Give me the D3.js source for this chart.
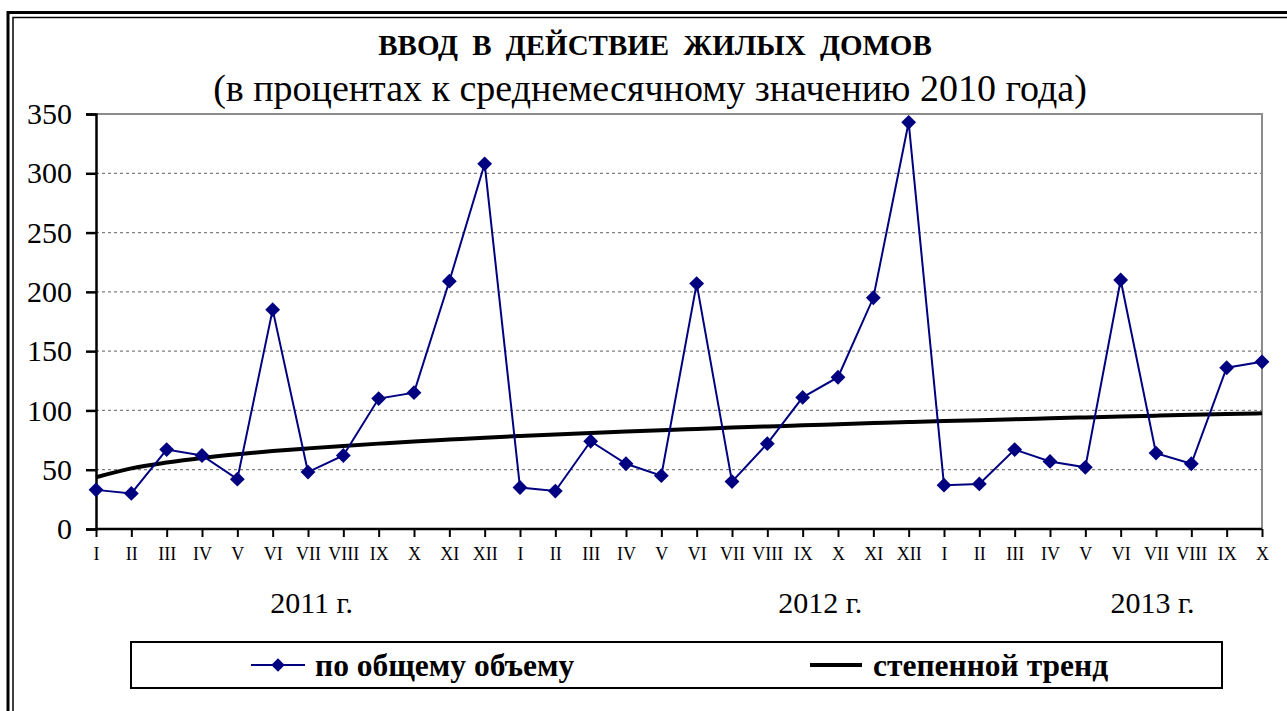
<!DOCTYPE html>
<html>
<head>
<meta charset="utf-8">
<script src="https://cdn.jsdelivr.net/npm/d3@7"></script>
<style>
  body { margin: 0; background: #fff; }
</style>
</head>
<body>
<div id="chart"></div>
<script>
// data
var months = ["I","II","III","IV","V","VI","VII","VIII","IX","X","XI","XII",
              "I","II","III","IV","V","VI","VII","VIII","IX","X","XI","XII",
              "I","II","III","IV","V","VI","VII","VIII","IX","X"];
var totalVolume = [33, 30, 67, 62, 42, 185, 48, 62, 110, 115, 209, 308,
                   35, 32, 74, 55, 45, 207, 40, 72, 111, 128, 195, 343,
                   37, 38, 67, 57, 52, 210, 64, 55, 136, 141];
var powerTrend = [43.6, 51.1, 56.0, 59.9, 63.0, 65.7, 68.0, 70.1, 72.0, 73.8, 75.4, 77.0,
                  78.4, 79.7, 81.0, 82.2, 83.3, 84.4, 85.5, 86.5, 87.4, 88.4, 89.3, 90.2,
                  91.0, 91.8, 92.6, 93.4, 94.1, 94.9, 95.6, 96.3, 97.0, 97.6];
var yTicks = [0, 50, 100, 150, 200, 250, 300, 350];
var yearLabels = ["2011 г.", "2012 г.", "2013 г."];
var seriesNames = ["по общему объему", "степенной тренд"];

var W = 1287, H = 711;
var margin = {top: 114, right: 25, bottom: 182, left: 96},
    width = W - margin.left - margin.right,
    height = H - margin.top - margin.bottom;

var navy = "#000080";
var serif = "'Liberation Serif', 'Times New Roman', serif";

var root = d3.select("#chart").append("svg")
    .attr("width", W)
    .attr("height", H)
    .attr("font-family", serif);

// double frame round the chart (cut off at right and bottom)
root.append("rect")
    .attr("x", 8).attr("y", 12.5)
    .attr("width", W + 20).attr("height", H + 20)
    .attr("fill", "none").attr("stroke", "#000").attr("stroke-width", 3);
root.append("rect")
    .attr("x", 13).attr("y", 17.5)
    .attr("width", W + 20).attr("height", H + 20)
    .attr("fill", "none").attr("stroke", "#000").attr("stroke-width", 1.5);

// titles
root.append("text")
    .attr("x", 655).attr("y", 55)
    .attr("text-anchor", "middle")
    .style("font-family", serif)
    .style("font-size", "29px")
    .style("font-weight", "bold")
    .style("word-spacing", "7px")
    .text("ВВОД В ДЕЙСТВИЕ ЖИЛЫХ ДОМОВ");
root.append("text")
    .attr("x", 650).attr("y", 101)
    .attr("text-anchor", "middle")
    .style("font-family", serif)
    .style("font-size", "38px")
    .text("(в процентах к среднемесячному значению 2010 года)");

var svg = root.append("g")
    .attr("transform", "translate(" + margin.left + "," + margin.top + ")");

// scales
var x = d3.scalePoint()
    .domain(d3.range(months.length))
    .range([0, width]);
var y = d3.scaleLinear()
    .domain([0, 350])
    .range([height, 0]);

// grid lines
svg.append("g")
  .selectAll("line")
  .data(yTicks.filter(function(d) { return d > 0 && d < 350; }))
  .enter().append("line")
    .attr("x1", 0).attr("x2", width)
    .attr("y1", function(d) { return y(d); })
    .attr("y2", function(d) { return y(d); })
    .attr("stroke", "#808080")
    .attr("stroke-width", 1.2)
    .attr("stroke-dasharray", "3,3");

// plot area top and right border
svg.append("path")
    .attr("d", "M0," + y(350) + "H" + width + "V" + height)
    .attr("fill", "none")
    .attr("stroke", "#8c8c8c")
    .attr("stroke-width", 2);

// Y axis
var yAxis = svg.append("g")
    .call(d3.axisLeft(y).tickValues(yTicks).tickSize(10).tickPadding(14));
yAxis.attr("font-family", serif);
yAxis.select(".domain").attr("stroke-width", 2.5);
yAxis.selectAll(".tick line").attr("stroke-width", 2.5);
yAxis.selectAll("text")
    .style("font-family", serif)
    .style("font-size", "30px")
    .attr("fill", "#000");

// X axis
var xAxis = svg.append("g")
    .attr("transform", "translate(0," + height + ")")
    .call(d3.axisBottom(x).tickSize(8).tickPadding(10)
      .tickFormat(function(i) { return months[i]; }));
xAxis.attr("font-family", serif);
xAxis.select(".domain").attr("stroke-width", 2.5).attr("d", "M0,0H" + width);
xAxis.selectAll(".tick line").attr("stroke-width", 2);
xAxis.selectAll("text")
    .style("font-family", serif)
    .style("font-size", "18px")
    .attr("fill", "#000");

// year captions
var yearAt = [6.1, 20.5, 29.9];
svg.append("g")
  .selectAll("text")
  .data(yearLabels)
  .enter().append("text")
    .attr("x", function(d, i) { return yearAt[i] * x.step(); })
    .attr("y", height + 84)
    .attr("text-anchor", "middle")
    .style("font-family", serif)
    .style("font-size", "30px")
    .text(function(d) { return d; });

// trend line
var trendLine = d3.line()
    .x(function(d, i) { return x(i); })
    .y(function(d) { return y(d); })
    .curve(d3.curveMonotoneX);
svg.append("path")
    .datum(powerTrend)
    .attr("d", trendLine)
    .attr("fill", "none")
    .attr("stroke", "#000")
    .attr("stroke-width", 4);

// main series
var line = d3.line()
    .x(function(d, i) { return x(i); })
    .y(function(d) { return y(d); });
svg.append("path")
    .datum(totalVolume)
    .attr("d", line)
    .attr("fill", "none")
    .attr("stroke", navy)
    .attr("stroke-width", 2);

var diamond = d3.symbol().type(d3.symbolSquare).size(110);
svg.append("g")
  .selectAll("path")
  .data(totalVolume)
  .enter().append("path")
    .attr("d", diamond)
    .attr("transform", function(d, i) {
      return "translate(" + x(i) + "," + y(d) + ") rotate(45)";
    })
    .attr("fill", navy);

// legend
var legend = root.append("g");
legend.append("rect")
    .attr("x", 131).attr("y", 642)
    .attr("width", 1091).attr("height", 46)
    .attr("fill", "#fff")
    .attr("stroke", "#000")
    .attr("stroke-width", 2);

legend.append("line")
    .attr("x1", 251).attr("x2", 305)
    .attr("y1", 665).attr("y2", 665)
    .attr("stroke", navy).attr("stroke-width", 2);
legend.append("path")
    .attr("d", d3.symbol().type(d3.symbolSquare).size(90))
    .attr("transform", "translate(278,665) rotate(45)")
    .attr("fill", navy);
legend.append("text")
    .attr("x", 315).attr("y", 676)
    .style("font-family", serif)
    .style("font-size", "31.5px")
    .style("font-weight", "bold")
    .text(seriesNames[0]);

legend.append("line")
    .attr("x1", 810).attr("x2", 862)
    .attr("y1", 665).attr("y2", 665)
    .attr("stroke", "#000").attr("stroke-width", 4);
legend.append("text")
    .attr("x", 873).attr("y", 676)
    .style("font-family", serif)
    .style("font-size", "31.5px")
    .style("font-weight", "bold")
    .text(seriesNames[1]);
</script>
</body>
</html>
